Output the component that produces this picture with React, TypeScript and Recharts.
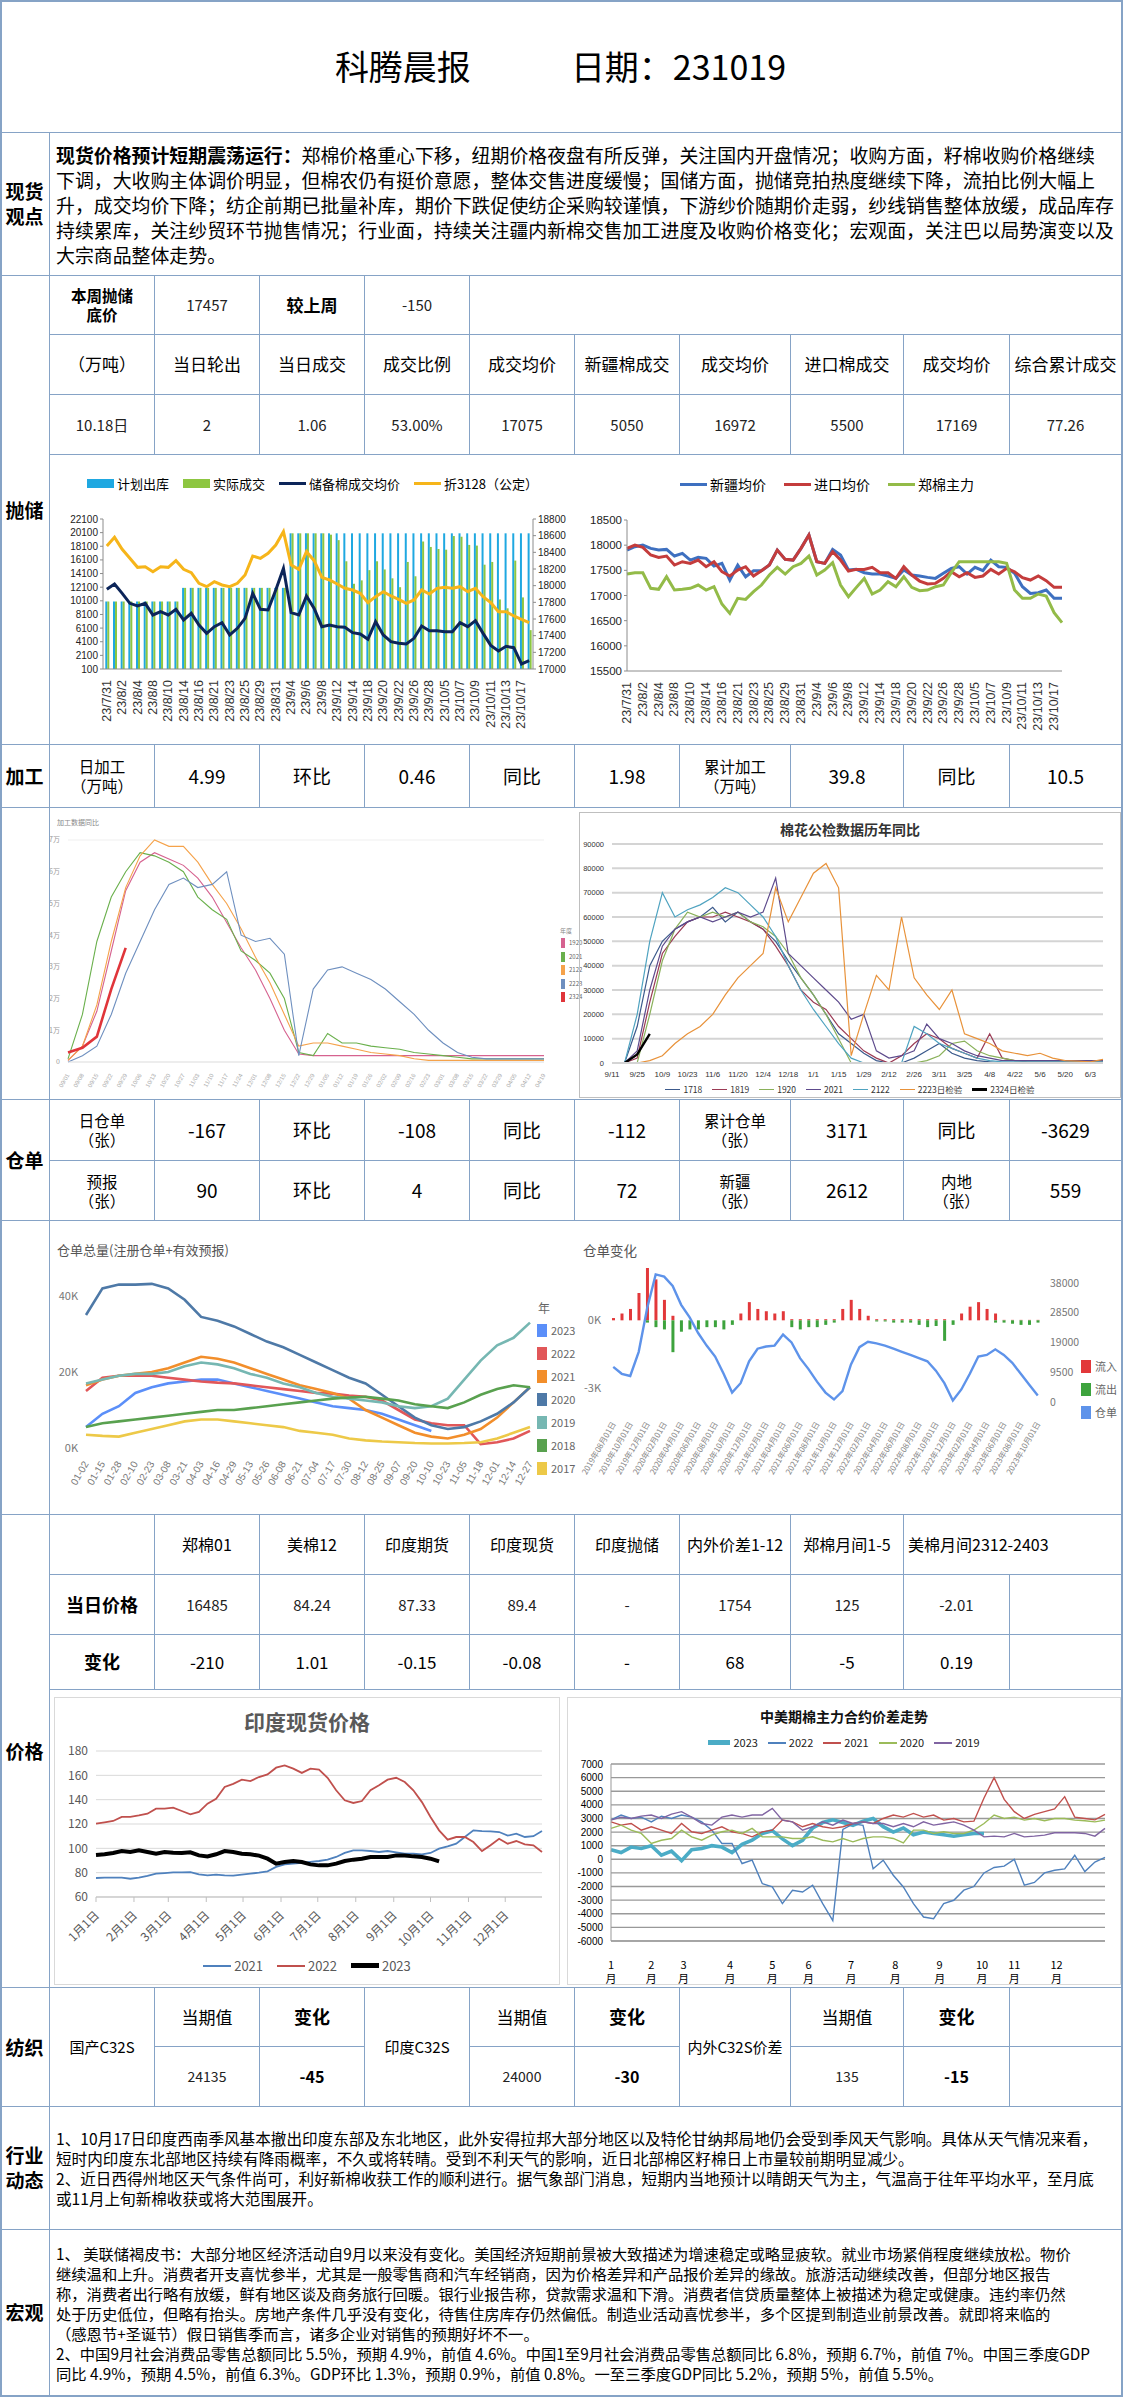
import React from 'react';
import { ComposedChart, LineChart, Line, Bar, XAxis, YAxis, CartesianGrid } from 'recharts';

// ---------- 抛储 ----------
const auctionDates = ['23/7/31','23/8/1','23/8/2','23/8/3','23/8/4','23/8/7','23/8/8','23/8/9','23/8/10','23/8/11','23/8/14','23/8/15','23/8/16','23/8/18','23/8/21','23/8/22','23/8/23','23/8/24','23/8/25','23/8/28','23/8/29','23/8/30','23/8/31','23/9/1','23/9/4','23/9/5','23/9/6','23/9/7','23/9/8','23/9/11','23/9/12','23/9/13','23/9/14','23/9/15','23/9/18','23/9/19','23/9/20','23/9/21','23/9/22','23/9/25','23/9/26','23/9/27','23/9/28','23/10/4','23/10/5','23/10/6','23/10/7','23/10/8','23/10/9','23/10/10','23/10/11','23/10/12','23/10/13','23/10/16','23/10/17','23/10/18'];
const auctionPlan = [10000,10000,10000,10000,10000,10000,10000,10000,10000,10000,12000,12000,12000,12000,12000,12000,12000,12000,12000,12000,12000,12000,12000,12000,20000,20000,20000,20000,20000,20000,20000,20000,20000,20000,20000,20000,20000,20000,20000,20000,20000,20000,20000,20000,20000,20000,20000,20000,20000,20000,20000,20000,20000,20000,20000,20000];
const auctionDeal = [10000,10000,10000,10000,10000,10000,10000,10000,10000,10000,12000,12000,12000,12000,12000,12000,12000,12000,12000,12000,12000,12000,12000,12000,20000,20000,20000,20000,20000,19800,19000,15900,12600,13100,14600,15900,14700,13400,12100,15800,13700,18800,18000,17700,17600,19600,19500,18300,18200,15400,15800,10300,9000,16000,10600,5800];
const auctionAvg = [17956,18020,17908,17788,17756,17788,17648,17688,17648,17716,17588,17668,17528,17428,17508,17556,17408,17488,17608,17908,17716,17708,17948,18208,17676,17648,17876,17728,17508,17528,17508,17500,17436,17420,17356,17568,17408,17328,17308,17300,17368,17516,17460,17460,17448,17448,17556,17508,17580,17428,17284,17216,17272,17256,17060,17100];
const auction3128 = [18476,18580,18436,18328,18220,18228,18168,18228,18220,18300,18196,18156,18028,17988,18048,18008,17988,18028,18128,18356,18328,18388,18488,18648,18248,18196,18408,18300,18100,18068,18020,17968,17948,17908,17796,17868,17928,17876,17836,17788,17828,17948,17900,17968,17980,17968,17988,17928,17968,17868,17796,17688,17688,17636,17596,17556];
const auctionLeftTicks = [100,2100,4100,6100,8100,10100,12100,14100,16100,18100,20100,22100];
const auctionRightTicks = [17000,17200,17400,17600,17800,18000,18200,18400,18600,18800];
const auctionNames = ['计划出库','实际成交','储备棉成交均价','折3128（公定）'];

const xjPrice = [17903,17969,18002,17936,17903,17916,17784,17837,17704,17757,17738,17585,17638,17307,17605,17373,17493,17493,17605,17903,17718,17704,17936,18201,17671,17638,17916,17804,17506,17519,17453,17426,17426,17387,17340,17506,17407,17387,17360,17340,17440,17539,17572,17426,17559,17493,17704,17572,17559,17440,17175,17042,17055,17109,16943,16943];
const importPrice = [17936,18002,17956,17804,17757,17784,17605,17671,17638,17704,17572,17671,17473,17387,17506,17572,17387,17493,17605,17903,17718,17704,17936,18201,17671,17638,17870,17704,17486,17519,17519,17559,17453,17453,17340,17572,17407,17287,17228,17241,17340,17473,17373,17453,17360,17387,17519,17426,17539,17473,17354,17307,17387,17294,17162,17162];
const zzPrice = [17426,17453,17453,17142,17122,17373,17109,17122,17142,17208,17109,17175,16831,16645,16943,16923,17076,17208,17407,17559,17426,17572,17638,17784,17407,17506,17651,17208,16976,17162,17340,17029,17109,17274,17175,17373,17162,17095,17109,17175,17208,17453,17671,17671,17671,17671,17671,17671,17638,17109,16943,16943,17029,16989,16658,16460];
const priceTicks = [15500,16000,16500,17000,17500,18000,18500];
const priceNames = ['新疆均价','进口均价','郑棉主力'];

// ---------- 加工 ----------
const procDates = ['09/01','09/08','09/15','09/22','09/29','10/06','10/13','10/20','10/27','11/03','11/10','11/17','11/24','12/01','12/08','12/15','12/22','12/29','01/05','01/12','01/19','01/26','02/02','02/09','02/16','02/23','03/01','03/08','03/15','03/22','03/29','04/05','04/12','04/19'];
const proc1920 = [0.05,0.5,1.6,3.5,5.4,6.3,6.6,6.4,6.2,5.8,5.2,4.4,3.6,2.9,2.0,1.0,0.25,0.2,0.2,0.2,0.2,0.2,0.2,0.2,0.2,0.2,0.2,0.2,0.2,0.2,0.2,0.2,0.2,0.2];
const proc2021 = [0.1,1.5,3.8,5.2,6.0,6.6,6.5,6.3,6.0,5.2,4.8,4.5,3.5,3.2,2.8,2.0,0.3,0.2,0.9,0.6,0.6,0.5,0.45,0.4,0.3,0.25,0.2,0.15,0.1,0.1,0.1,0.1,0.1,0.1];
const proc2122 = [0.05,0.5,1.8,3.8,5.5,6.5,7.0,6.8,6.8,6.3,5.6,5.0,4.2,3.3,2.5,1.5,0.5,0.6,0.6,0.5,0.4,0.3,0.25,0.2,0.1,0.05,0.05,0.05,0.05,0.05,0.05,0.05,0.05,0.05];
const proc2223 = [0,0.2,0.5,1.5,2.8,3.8,4.8,5.6,5.8,5.5,5.6,6.0,4.0,3.8,3.9,3.4,0.2,2.3,2.9,3.0,2.8,2.6,2.3,1.9,1.5,1.0,0.6,0.3,0.15,0.1,0.1,0.1,0.1,0.1];
const proc2324 = [0.3,0.45,0.8,2.3,3.6,null,null,null,null,null,null,null,null,null,null,null,null,null,null,null,null,null,null,null,null,null,null,null,null,null,null,null,null,null];
const procTicks = [0,1,2,3,4,5,6,7];
const procNames = ['1920','2021','2122','2223','2324'];

const gjWeeks = ['9/11','9/18','9/25','10/2','10/9','10/16','10/23','10/30','11/6','11/13','11/20','11/27','12/4','12/11','12/18','12/25','1/1','1/8','1/15','1/22','1/29','2/5','2/12','2/19','2/26','3/4','3/11','3/18','3/25','4/1','4/8','4/15','4/22','4/29','5/6','5/13','5/20','5/27','6/3','6/10'];
const gj1718 = [0,0,15000,40000,50000,55000,58000,60000,64000,58000,62000,58000,55000,50000,42000,35000,28000,20000,12000,8000,4000,1000,0,0,2000,5000,8000,4000,2000,1000,500,0,0,0,0,0,0,0,0,0];
const gj1819 = [0,0,2000,25000,45000,52000,58000,60000,60000,62000,60000,58000,55000,48000,40000,30000,25000,22000,15000,10000,5000,2000,0,3000,8000,12000,10000,6000,4000,2000,12000,2000,1000,500,500,500,500,500,500,500];
const gj1920 = [0,0,0,20000,42000,55000,62000,60000,62000,60000,62000,58000,56000,52000,45000,35000,28000,20000,10000,0,0,0,0,0,0,1000,3000,8000,9000,5000,3000,2000,1000,1000,1000,1000,1000,1000,1000,1000];
const gj2021 = [0,0,5000,30000,48000,55000,58000,60000,58000,60000,62000,60000,62000,76000,45000,40000,35000,30000,25000,18000,20000,5000,2000,3000,5000,16000,10000,8000,5000,3000,2000,1000,1000,1000,1000,1000,1000,1000,1000,1000];
const gj2122 = [0,0,20000,50000,70000,60000,63000,65000,68000,72000,70000,65000,60000,52000,40000,30000,22000,15000,8000,2000,0,0,0,0,15000,12000,8000,6000,4000,2000,1000,500,500,500,500,500,500,500,500,500];
const gj2223 = [0,0,0,1000,3000,8000,12000,15000,20000,28000,35000,40000,45000,72000,58000,68000,78000,82000,72000,3000,20000,36000,30000,60000,35000,28000,22000,30000,12000,10000,8000,5000,4000,3000,4000,2000,1000,800,500,1500];
const gj2324 = [null,0,3500,12000,null,null,null,null,null,null,null,null,null,null,null,null,null,null,null,null,null,null,null,null,null,null,null,null,null,null,null,null,null,null,null,null,null,null,null,null];
const gjTicks = [0,10000,20000,30000,40000,50000,60000,70000,80000,90000];
const gjNames = ['1718','1819','1920','2021','2122','2223日检验','2324日检验'];

// ---------- 仓单 ----------
const cdDates = ['01-02','01-15','01-28','02-10','02-23','03-08','03-21','04-03','04-16','04-29','05-13','05-26','06-08','06-21','07-04','07-17','07-30','08-12','08-25','09-07','09-20','10-10','10-23','11-05','11-18','12-01','12-14','12-27'];
const cd2023 = [5500,9000,11000,14500,16000,17000,17500,18000,18000,17000,16000,15000,14000,13000,12000,11000,10500,10000,9000,7500,6000,4500,null,null,null,null,null,null];
const cd2022 = [15000,18500,19000,19000,19000,18500,18000,17500,17200,17000,16500,16000,15500,15000,14500,14300,13800,13500,12500,10000,7500,6500,6000,6000,1000,1500,2500,4500];
const cd2021 = [16500,18000,19000,19500,20000,21000,22500,24000,23500,22500,21000,19500,18000,16500,15500,14500,13000,10000,8000,6000,4000,3000,2500,3500,5000,8000,12000,16000];
const cd2020 = [35000,42000,43000,43000,43200,42000,39000,34500,33500,32000,30000,28000,26500,24500,22500,20500,18500,17000,14000,11000,8000,6000,5000,5500,7000,9000,12000,16000];
const cd2019 = [17000,18000,19000,19500,19500,20000,21500,22500,22000,21000,19500,18500,17000,16000,14500,13500,13000,12500,12000,11000,10500,11000,13000,18000,23000,27000,29000,33000];
const cd2018 = [5500,6500,7000,7500,8000,8500,9000,9500,10000,10000,10500,11000,11500,12000,12500,13000,13300,13500,13000,12500,11500,11000,10500,12000,14000,15500,16500,16000];
const cd2017 = [3500,3200,3000,4000,5000,6000,7000,7500,7500,7000,6500,6000,5500,4500,4000,3500,2500,2000,1700,1500,1300,1200,1200,1300,1500,2500,4000,5500];
const cdTicks = [0,20000,40000];
const cdYears = ['2023','2022','2021','2020','2019','2018','2017'];

const chgDates = ['2019年08月01日','2019年09月01日','2019年10月01日','2019年11月01日','2019年12月01日','2020年01月01日','2020年02月01日','2020年03月01日','2020年04月01日','2020年05月01日','2020年06月01日','2020年07月01日','2020年08月01日','2020年09月01日','2020年10月01日','2020年11月01日','2020年12月01日','2021年01月01日','2021年02月01日','2021年03月01日','2021年04月01日','2021年05月01日','2021年06月01日','2021年07月01日','2021年08月01日','2021年09月01日','2021年10月01日','2021年11月01日','2021年12月01日','2022年01月01日','2022年02月01日','2022年03月01日','2022年04月01日','2022年05月01日','2022年06月01日','2022年07月01日','2022年08月01日','2022年09月01日','2022年10月01日','2022年11月01日','2022年12月01日','2023年01月01日','2023年02月01日','2023年03月01日','2023年04月01日','2023年05月01日','2023年06月01日','2023年07月01日','2023年08月01日','2023年09月01日','2023年10月01日'];
const chgStock = [11200,9000,8300,16000,30000,40700,40000,37000,31000,27000,22000,18000,14500,9000,3000,6000,13000,17000,17700,18000,21500,19000,14000,10500,6500,3000,800,3500,12000,17500,19200,18700,18000,17000,16000,15000,14000,13000,10000,6000,500,4000,9000,14500,15000,16800,15000,12500,9000,5500,2100];
const chgIn = [0.1,0.3,0.5,1.2,2.3,1.8,0.9,0.2,0,0,0,0,0,0,0,0.3,0.8,0.5,0.4,0.3,0.4,0.05,0.05,0.05,0.05,0.05,0.05,0.5,0.9,0.5,0.2,0.05,0.05,0.05,0.05,0.05,0.05,0.05,0.05,0.05,0,0.3,0.6,0.8,0.5,0.3,0.02,0.02,0.02,0.02,0.02];
const chgOut = [0,0,0,0,-0.1,-0.3,-0.4,-1.4,-0.5,-0.4,-0.4,-0.3,-0.3,-0.4,-0.2,0,0,0,0,0,0,-0.3,-0.4,-0.3,-0.3,-0.2,-0.1,0,0,0,0,-0.05,-0.05,-0.1,-0.1,-0.1,-0.2,-0.3,-0.25,-0.9,-0.2,0,0,0,0,-0.1,-0.1,-0.15,-0.2,-0.2,-0.1];
const chgLeftTicks = [-3,0];
const chgRightTicks = [0,9500,19000,28500,38000];
const chgNames = ['流入','流出','仓单'];

// ---------- 价格 ----------
const indiaDays = [1,8,15,22,29,36,43,50,57,64,71,78,85,92,99,106,113,120,127,134,141,148,155,162,169,176,183,190,197,204,211,218,225,232,239,246,253,260,267,274,281,288,295,302,309,316,323,330,337,344,351,358,365];
const india2021 = [75.6,75.9,75.9,75.9,75.0,75.9,77.3,79.2,79.7,80.3,80.3,80.5,78.6,77.8,78.4,77.8,77.5,78.4,79.2,80.0,81.1,84.7,86.8,87.4,88.0,88.8,89.6,90.7,92.9,96.2,98.4,98.4,97.8,97.0,97.8,96.7,95.6,95.6,95.1,96.2,99.7,101.6,103.8,109.3,114.8,114.2,114.0,113.4,110.4,112.0,109.3,110.0,114.2];
const india2022 = [120.3,121.4,122.5,125.8,125.8,127.0,128.5,132.6,132.6,133.4,130.7,128.0,130.0,136.7,140.8,150.4,153.0,156.4,155.3,158.6,160.8,166.3,168.2,165.5,162.0,165.5,164.7,158.0,147.7,139.5,137.3,138.9,147.7,151.8,156.4,158.0,154.5,147.7,138.0,125.8,114.8,107.1,109.3,109.3,105.2,97.8,102.5,107.9,103.8,106.0,103.3,102.5,97.0];
const india2023 = [94.5,95.1,96.2,97.8,97.0,98.4,97.0,95.6,97.0,96.4,96.2,96.7,94.2,93.4,95.1,97.8,97.0,95.6,95.1,94.0,91.5,87.4,88.8,89.6,88.8,86.8,86.0,86.0,87.4,89.6,90.7,91.5,92.9,92.9,92.9,94.2,94.2,93.4,92.9,91.5,89.3,null,null,null,null,null,null,null,null,null,null,null,null];
const indiaMonthDays = [1,32,60,91,121,152,182,213,244,274,305,335];
const indiaMonthLabels = ['1月1日','2月1日','3月1日','4月1日','5月1日','6月1日','7月1日','8月1日','9月1日','10月1日','11月1日','12月1日'];
const indiaYTicks = [60,80,100,120,140,160,180];
const indiaNames = ['2021','2022','2023'];

const spreadIdx = [0,5,10,15,20,25,30,35,40,45,50,55,60,65,70,75,80,85,90,95,100,105,110,115,120,125,130,135,140,145,150,155,160,165,170,175,180,185,190,195,200,205,210,215,220,225,230,235,240,245];
const spread2023 = [700,500,900,800,1000,300,600,-100,700,800,1000,900,500,1100,1400,1900,2100,1500,1000,1400,2300,2700,2900,2700,2500,2800,3000,2400,2000,2300,1800,2000,1900,1800,1700,1800,1900,1900,null,null,null,null,null,null,null,null,null,null,null,null];
const spread2022 = [2900,3250,3000,3100,2750,3170,3000,3250,3100,2750,2140,1160,1160,-310,-65,-1780,-2030,-3250,-2270,-2400,-1900,-3250,-4500,2200,2600,2500,-700,-65,-1170,-2030,-3250,-4240,-4360,-3250,-3010,-2270,-2000,-1000,-600,-500,0,-1900,-1700,-1000,-800,-700,300,-900,-200,150];
const spread2021 = [2750,2510,2630,2140,2390,2140,1900,2630,2020,1900,2140,2390,2020,1900,1650,2020,2140,2880,2750,2390,2630,2390,2270,2390,2630,2750,2630,3000,3250,3100,3370,3100,3250,2880,3000,2750,2800,4500,6000,4400,3500,3000,3300,3500,3700,4600,3100,3000,2900,3300];
const spread2020 = [2270,2510,2140,1900,1160,1400,1530,2140,1650,1400,1780,2020,2140,1900,2270,1650,1650,1650,1530,1530,1650,1400,1280,1530,1280,1530,1650,1650,1530,1210,2140,2140,1900,2020,1900,1900,2140,2630,3250,3000,3100,2880,3000,2830,3000,3000,2880,2830,2750,2880];
const spread2019 = [2880,3100,3000,3170,3250,3000,3320,3500,3100,2630,2510,3100,3250,3100,3250,3250,3740,2880,2750,2140,2390,2750,2510,2880,2630,2750,2630,2630,2390,2630,2390,2750,2510,2630,2750,2510,2140,1650,1700,1650,1900,1650,1700,1780,1950,1950,1950,1900,1700,2270];
const spreadMonthIdx = [0,20,36,59,80,98,119,141,163,184,200,221];
const spreadMonthNames = ['1','2','3','4','5','6','7','8','9','10','11','12'];
const spreadYTicks = [-6000,-5000,-4000,-3000,-2000,-1000,0,1000,2000,3000,4000,5000,6000,7000];
const spreadNames = ['2023','2022','2021','2020','2019'];

// ---------- 文字 ----------
const viewLead = '现货价格预计短期震荡运行：';
const viewLines = [
  '郑棉价格重心下移，纽期价格夜盘有所反弹，关注国内开盘情况；收购方面，籽棉收购价格继续',
  '下调，大收购主体调价明显，但棉农仍有挺价意愿，整体交售进度缓慢；国储方面，抛储竞拍热度继续下降，流拍比例大幅上',
  '升，成交均价下降；纺企前期已批量补库，期价下跌促使纺企采购较谨慎，下游纱价随期价走弱，纱线销售整体放缓，成品库存',
  '持续累库，关注纱贸环节抛售情况；行业面，持续关注疆内新棉交售加工进度及收购价格变化；宏观面，关注巴以局势演变以及',
  '大宗商品整体走势。',
];
const industryLines = [
  '1、10月17日印度西南季风基本撤出印度东部及东北地区，此外安得拉邦大部分地区以及特伦甘纳邦局地仍会受到季风天气影响。具体从天气情况来看，',
  '短时内印度东北部地区持续有降雨概率，不久或将转晴。受到不利天气的影响，近日北部棉区籽棉日上市量较前期明显减少。',
  '2、近日西得州地区天气条件尚可，利好新棉收获工作的顺利进行。据气象部门消息，短期内当地预计以晴朗天气为主，气温高于往年平均水平，至月底',
  '或11月上旬新棉收获或将大范围展开。',
];
const macroLines = [
  '1、 美联储褐皮书：大部分地区经济活动自9月以来没有变化。美国经济短期前景被大致描述为增速稳定或略显疲软。就业市场紧俏程度继续放松。物价',
  '继续温和上升。消费者开支喜忧参半，尤其是一般零售商和汽车经销商，因为价格差异和产品报价差异的缘故。旅游活动继续改善，但部分地区报告',
  '称，消费者出行略有放缓，鲜有地区谈及商务旅行回暖。银行业报告称，贷款需求温和下滑。消费者信贷质量整体上被描述为稳定或健康。违约率仍然',
  '处于历史低位，但略有抬头。房地产条件几乎没有变化，待售住房库存仍然偏低。制造业活动喜忧参半，多个区提到制造业前景改善。就即将来临的',
  '（感恩节+圣诞节）假日销售季而言，诸多企业对销售的预期好坏不一。',
  '2、中国9月社会消费品零售总额同比 5.5%，预期 4.9%，前值 4.6%。中国1至9月社会消费品零售总额同比 6.8%，预期 6.7%，前值 7%。中国三季度GDP',
  '同比 4.9%，预期 4.5%，前值 6.3%。GDP环比 1.3%，预期 0.9%，前值 0.8%。一至三季度GDP同比 5.2%，预期 5%，前值 5.5%。',
];

// ---------- 样式 ----------
const BC = '#86A3C6';
const FONT = '"Noto Sans CJK SC", "Noto Sans", sans-serif';
const AXF = '"Liberation Sans Narrow", "Liberation Sans", sans-serif';
const AXW = '"Liberation Sans", Arial, sans-serif';
const COLS = [0, 50, 155, 260, 365, 470, 575, 680, 791, 904, 1010, 1122];

function Box({ x0, x1, y0, y1, children, style }: any) {
  return (
    <div style={{ position: 'absolute', left: x0, top: y0, width: x1 - x0, height: y1 - y0, boxSizing: 'border-box', borderRight: `1px solid ${BC}`, borderBottom: `1px solid ${BC}`, display: 'flex', flexDirection: 'column', alignItems: 'center', justifyContent: 'center', textAlign: 'center', lineHeight: 1.3, ...style }}>
      {children}
    </div>
  );
}
const C = (a: number, b: number, y0: number, y1: number, children?: any, style?: any) => (
  <Box key={`${a}-${b}-${y0}`} x0={COLS[a]} x1={COLS[b]} y0={y0} y1={y1} style={style}>{children}</Box>
);

const LAB = { fontSize: 19, fontWeight: 700 };
const HD = { fontSize: 17 };
const VAL = { fontSize: 15, color: '#222' };
const BIG = { fontSize: 19 };
const SUB = { fontSize: 15.5, lineHeight: 1.2 };

// rotated category label; every visual prop is passed explicitly so Recharts' own tick props don't override it
const VTick = ({ x, y, payload, fs, color, rot, off, family }: any) => (
  <g transform={`translate(${x},${y + off})`}>
    <text transform={`rotate(${rot})`} textAnchor="end" dominantBaseline="central" fontSize={fs} fill={color} fontFamily={family}>{payload.value}</text>
  </g>
);

function LegendRow({ items, fs, style, gap = 16 }: any) {
  return (
    <div style={{ position: 'absolute', display: 'flex', alignItems: 'center', justifyContent: 'center', gap, fontSize: fs, whiteSpace: 'nowrap', lineHeight: 1, ...style }}>
      {items.map((it: any) => (
        <div key={it.label} style={{ display: 'flex', alignItems: 'center', gap: 3 }}>
          <span style={{ display: 'inline-block', width: it.w, height: it.h, background: it.color }} />
          <span>{it.label}</span>
        </div>
      ))}
    </div>
  );
}

function LegendCol({ items, fs, style, sw = 10, sh = 13, step = 23 }: any) {
  return (
    <div style={{ position: 'absolute', fontSize: fs, color: '#666', lineHeight: 1, ...style }}>
      {items.map((it: any, i: number) => (
        <div key={it.label} style={{ position: 'absolute', top: i * step, left: 0, display: 'flex', alignItems: 'center', gap: 4, whiteSpace: 'nowrap' }}>
          <span style={{ display: 'inline-block', width: sw, height: sh, background: it.color }} />
          <span>{it.label}</span>
        </div>
      ))}
    </div>
  );
}

// ---------- 图表 ----------
function AuctionChart() {
  const data = auctionDates.map((d, i) => ({ d, plan: auctionPlan[i], deal: auctionDeal[i], avg: auctionAvg[i], c: auction3128[i] }));
  const cols = ['#1FA8E1', '#8DC641', '#0C2559', '#F6B51A'];
  const yt = { fontSize: 10, fill: '#222', fontFamily: AXF };
  return (
    <div style={{ position: 'absolute', left: 50, top: 455, width: 525, height: 290 }}>
      <LegendRow fs={13} gap={14} style={{ left: 0, width: 525, top: 22 }}
        items={auctionNames.map((n, i) => ({ label: n, color: cols[i], w: 27, h: i < 2 ? 9 : 3 }))} />
      <ComposedChart width={525} height={290} data={data} margin={{ top: 64, right: 0, bottom: 0, left: 0 }} barGap={0} barCategoryGap="30%">
        <XAxis dataKey="d" interval={1} height={76} tickLine={false} axisLine={{ stroke: '#8c8c8c' }}
          tick={(p: any) => <VTick x={p.x} y={p.y} payload={p.payload} fs={12.5} color="#333" rot={-90} off={3} family={AXW} />} />
        <YAxis yAxisId="l" width={53} domain={[100, 22100]} ticks={auctionLeftTicks} interval={0} tick={yt} axisLine={{ stroke: '#8c8c8c' }} tickLine={{ stroke: '#8c8c8c' }} tickSize={3} />
        <YAxis yAxisId="r" orientation="right" width={42} domain={[17000, 18800]} ticks={auctionRightTicks} interval={0} tick={yt} axisLine={{ stroke: '#8c8c8c' }} tickLine={{ stroke: '#8c8c8c' }} tickSize={3} />
        <Bar yAxisId="l" dataKey="plan" fill={cols[0]} isAnimationActive={false} />
        <Bar yAxisId="l" dataKey="deal" fill={cols[1]} isAnimationActive={false} />
        <Line yAxisId="r" dataKey="avg" stroke={cols[2]} strokeWidth={3} dot={false} isAnimationActive={false} />
        <Line yAxisId="r" dataKey="c" stroke={cols[3]} strokeWidth={3} dot={false} isAnimationActive={false} />
      </ComposedChart>
    </div>
  );
}

function PriceChart() {
  const data = auctionDates.map((d, i) => ({ d, xj: xjPrice[i], im: importPrice[i], zz: zzPrice[i] }));
  const cols = ['#3E70C0', '#C43C3C', '#93BB48'];
  return (
    <div style={{ position: 'absolute', left: 575, top: 455, width: 546, height: 290 }}>
      <LegendRow fs={14} gap={18} style={{ left: 0, width: 504, top: 22 }}
        items={priceNames.map((n, i) => ({ label: n, color: cols[i], w: 27, h: 3 }))} />
      <LineChart width={546} height={290} data={data} margin={{ top: 65, right: 59, bottom: 0, left: 0 }}>
        <XAxis dataKey="d" interval={1} height={74} tickLine={false} axisLine={{ stroke: '#8c8c8c' }}
          tick={(p: any) => <VTick x={p.x} y={p.y} payload={p.payload} fs={12.5} color="#333" rot={-90} off={3} family={AXW} />} />
        <YAxis width={52} domain={[15500, 18500]} ticks={priceTicks} interval={0} tick={{ fontSize: 11.5, fill: '#222', fontFamily: AXF }} axisLine={{ stroke: '#8c8c8c' }} tickLine={{ stroke: '#8c8c8c' }} tickSize={3} />
        <Line dataKey="xj" stroke={cols[0]} strokeWidth={3} dot={false} isAnimationActive={false} />
        <Line dataKey="im" stroke={cols[1]} strokeWidth={3} dot={false} isAnimationActive={false} />
        <Line dataKey="zz" stroke={cols[2]} strokeWidth={3} dot={false} isAnimationActive={false} />
      </LineChart>
    </div>
  );
}

function ProcChart() {
  const data = procDates.map((d, i) => ({ d, a: proc1920[i], b: proc2021[i], c: proc2122[i], e: proc2223[i], f: proc2324[i] }));
  const cols = ['#D6628F', '#6AB04C', '#F5A24A', '#6E8FBF', '#E0353A'];
  const fmt = (v: number) => (v === 0 ? '0' : `${v}万`);
  const keys = ['a', 'b', 'c', 'e', 'f'];
  return (
    <div style={{ position: 'absolute', left: 50, top: 808, width: 525, height: 292 }}>
      <div style={{ position: 'absolute', left: 7, top: 9, fontSize: 7, color: '#888' }}>加工数据同比</div>
      <LineChart width={525} height={292} data={data} margin={{ top: 32, right: 11, bottom: 0, left: 0 }}>
        <CartesianGrid vertical={false} stroke="#EFEFEF" />
        <XAxis dataKey="d" interval={0} height={38} tickLine={false} axisLine={{ stroke: '#e3e3e3' }}
          tick={(p: any) => <VTick x={p.x} y={p.y} payload={p.payload} fs={6} color="#aaa" rot={-60} off={4} family={AXW} />} />
        <YAxis yAxisId="l" width={18} domain={[0, 7]} ticks={procTicks} interval={0} tickFormatter={fmt} tick={{ fontSize: 7, fill: '#999' }} axisLine={false} tickLine={false} />
        <YAxis yAxisId="r" orientation="right" width={20} domain={[0, 7]} ticks={procTicks} interval={0} tickFormatter={fmt} tick={{ fontSize: 7, fill: '#999' }} axisLine={false} tickLine={false} />
        {keys.map((k, i) => (
          <Line key={k} yAxisId="l" dataKey={k} stroke={cols[i]} strokeWidth={i === 4 ? 2.6 : 1.1} dot={false} isAnimationActive={false} />
        ))}
      </LineChart>
      <div style={{ position: 'absolute', left: 510, top: 118, fontSize: 6, color: '#888' }}>年度</div>
      <LegendCol fs={6} sw={4} sh={10} step={13.5} style={{ left: 511, top: 130 }} items={procNames.map((n, i) => ({ label: n, color: cols[i] }))} />
    </div>
  );
}

function InspectChart() {
  const series = [gj1718, gj1819, gj1920, gj2021, gj2122, gj2223, gj2324];
  const cols = ['#3C5A8C', '#9B3B55', '#8AB15A', '#5D4A8C', '#4FA3C0', '#E8923A', '#000000'];
  const data = gjWeeks.map((w, i) => {
    const o: any = { w };
    series.forEach((s, j) => { o[`s${j}`] = s[i]; });
    return o;
  });
  return (
    <div style={{ position: 'absolute', left: 579, top: 812, width: 542, height: 286, border: '1px solid #BFBFBF', boxSizing: 'border-box' }}>
      <div style={{ position: 'absolute', left: 0, width: 540, top: 6, textAlign: 'center', fontSize: 14, fontWeight: 700, color: '#333' }}>棉花公检数据历年同比</div>
      <LineChart width={540} height={284} data={data} margin={{ top: 31, right: 17, bottom: 0, left: 0 }}>
        <CartesianGrid vertical={false} stroke="#D4D4D4" strokeWidth={2} />
        <XAxis dataKey="w" interval={1} height={34} tickLine={false} axisLine={{ stroke: '#D4D4D4', strokeWidth: 2 }} tick={{ fontSize: 8, fill: '#333', fontFamily: AXW }} />
        <YAxis width={32} domain={[0, 90000]} ticks={gjTicks} interval={0} tick={{ fontSize: 7.5, fill: '#333', fontFamily: AXW }} axisLine={false} tickLine={false} />
        {series.map((_, j) => (
          <Line key={j} dataKey={`s${j}`} stroke={cols[j]} strokeWidth={j === 6 ? 2.4 : 1.2} dot={false} isAnimationActive={false} />
        ))}
      </LineChart>
      <LegendRow fs={8.5} gap={10} style={{ left: 0, width: 540, top: 272, color: '#333' }}
        items={gjNames.map((n, i) => ({ label: n, color: cols[i], w: 15, h: i === 6 ? 3 : 1.5 }))} />
    </div>
  );
}

function StockChart() {
  const series = [cd2023, cd2022, cd2021, cd2020, cd2019, cd2018, cd2017];
  const cols = ['#5B8FF9', '#E15759', '#F28E2B', '#4E79A7', '#76B7B2', '#59A14F', '#EDC948'];
  const data = cdDates.map((d, i) => {
    const o: any = { d };
    series.forEach((s, j) => { o[`s${j}`] = s[i]; });
    return o;
  });
  return (
    <div style={{ position: 'absolute', left: 50, top: 1221, width: 525, height: 294 }}>
      <div style={{ position: 'absolute', left: 7, top: 19, fontSize: 13, color: '#555' }}>仓单总量(注册仓单+有效预报)</div>
      <LineChart width={525} height={294} data={data} margin={{ top: 56, right: 45, bottom: 0, left: 0 }}>
        <XAxis dataKey="d" interval={0} height={67} tickLine={false} axisLine={false}
          tick={(p: any) => <VTick x={p.x} y={p.y} payload={p.payload} fs={10} color="#777" rot={-60} off={6} family={AXW} />} />
        <YAxis width={36} domain={[0, 45000]} ticks={cdTicks} interval={0} tickFormatter={(v: number) => `${v / 1000}K`} tick={{ fontSize: 11, fill: '#777' }} axisLine={false} tickLine={false} />
        {series.map((_, j) => (
          <Line key={j} dataKey={`s${j}`} stroke={cols[j]} strokeWidth={2.6} dot={false} isAnimationActive={false} />
        ))}
      </LineChart>
      <div style={{ position: 'absolute', left: 488, top: 78, fontSize: 12, color: '#666' }}>年</div>
      <LegendCol fs={11} style={{ left: 487, top: 103 }} items={cdYears.map((n, i) => ({ label: n, color: cols[i] }))} />
    </div>
  );
}

function ChangeChart() {
  const data = chgDates.map((d, i) => ({ d, inflow: chgIn[i], outflow: chgOut[i], stock: chgStock[i] }));
  const cols = ['#E2383A', '#3DA33D', '#5E93EA'];
  return (
    <div style={{ position: 'absolute', left: 575, top: 1221, width: 546, height: 294 }}>
      <div style={{ position: 'absolute', left: 8, top: 19, fontSize: 13.5, color: '#555' }}>仓单变化</div>
      <ComposedChart width={546} height={294} data={data} margin={{ top: 47, right: 39, bottom: 0, left: 0 }} stackOffset="sign" barSize={3}>
        <XAxis dataKey="d" interval={1} height={113} tickLine={false} axisLine={false}
          tick={(p: any) => <VTick x={p.x} y={p.y} payload={p.payload} fs={8} color="#888" rot={-60} off={12} family={FONT} />} />
        <YAxis yAxisId="l" width={34} domain={[-3.59, 2.27]} ticks={chgLeftTicks} interval={0} tickFormatter={(v: number) => `${v}K`} tick={{ fontSize: 11, fill: '#777' }} axisLine={false} tickLine={false} />
        <YAxis yAxisId="r" orientation="right" width={40} domain={[0, 42750]} ticks={chgRightTicks} interval={0} tick={{ fontSize: 10.5, fill: '#777' }} axisLine={false} tickLine={false} />
        <Bar yAxisId="l" dataKey="inflow" stackId="a" fill={cols[0]} isAnimationActive={false} />
        <Bar yAxisId="l" dataKey="outflow" stackId="a" fill={cols[1]} isAnimationActive={false} />
        <Line yAxisId="r" dataKey="stock" stroke={cols[2]} strokeWidth={2.4} dot={false} isAnimationActive={false} />
      </ComposedChart>
      <LegendCol fs={11} style={{ left: 506, top: 139 }} items={chgNames.map((n, i) => ({ label: n, color: cols[i] }))} />
    </div>
  );
}

const IndiaTick = ({ x, y, payload }: any) => (
  <g transform={`translate(${x},${y + 8})`}>
    <text transform="rotate(-45)" textAnchor="end" dominantBaseline="central" fontSize={12} fill="#595959">
      {indiaMonthLabels[indiaMonthDays.indexOf(payload.value)]}
    </text>
  </g>
);

function IndiaChart() {
  const data = indiaDays.map((day, i) => ({ day, a: india2021[i], b: india2022[i], c: india2023[i] }));
  const cols = ['#4F81BD', '#C0504D', '#000000'];
  return (
    <div style={{ position: 'absolute', left: 54, top: 1697, width: 506, height: 288, border: '1px solid #D9D9D9', boxSizing: 'border-box' }}>
      <div style={{ position: 'absolute', left: 0, width: 504, top: 8, textAlign: 'center', fontSize: 21, fontWeight: 700, color: '#595959' }}>印度现货价格</div>
      <LineChart width={504} height={286} data={data} margin={{ top: 53, right: 17, bottom: 39, left: 0 }}>
        <CartesianGrid vertical={false} stroke="#D9D9D9" />
        <XAxis type="number" dataKey="day" domain={[1, 365]} ticks={indiaMonthDays} interval={0} height={48} tick={IndiaTick} tickLine={{ stroke: '#BFBFBF' }} tickSize={5} axisLine={{ stroke: '#BFBFBF' }} />
        <YAxis width={41} domain={[60, 180]} ticks={indiaYTicks} interval={0} tick={{ fontSize: 12, fill: '#595959' }} axisLine={false} tickLine={false} />
        <Line dataKey="a" stroke={cols[0]} strokeWidth={1.8} dot={false} isAnimationActive={false} />
        <Line dataKey="b" stroke={cols[1]} strokeWidth={1.8} dot={false} isAnimationActive={false} />
        <Line dataKey="c" stroke={cols[2]} strokeWidth={4} dot={false} isAnimationActive={false} />
      </LineChart>
      <LegendRow fs={13} gap={14} style={{ left: 0, width: 504, top: 261, color: '#595959' }}
        items={indiaNames.map((n, i) => ({ label: n, color: cols[i], w: 28, h: i === 2 ? 5 : 2 }))} />
    </div>
  );
}

const MonthTick = ({ x, y, payload }: any) => (
  <g transform={`translate(${x},${y})`}>
    <text textAnchor="middle" fontSize={11} fill="#000" y={20}>{spreadMonthNames[spreadMonthIdx.indexOf(payload.value)]}</text>
    <text textAnchor="middle" fontSize={11} fill="#000" y={34}>月</text>
  </g>
);

function SpreadChart() {
  const series = [spread2023, spread2022, spread2021, spread2020, spread2019];
  const cols = ['#4BACC6', '#4F81BD', '#C0504D', '#9BBB59', '#8064A2'];
  const data = spreadIdx.map((i, k) => {
    const o: any = { i };
    series.forEach((s, j) => { o[`s${j}`] = s[k]; });
    return o;
  });
  return (
    <div style={{ position: 'absolute', left: 567, top: 1697, width: 554, height: 288, border: '1px solid #D9D9D9', boxSizing: 'border-box' }}>
      <div style={{ position: 'absolute', left: 0, width: 552, top: 8, textAlign: 'center', fontSize: 14, fontWeight: 700, color: '#111' }}>中美期棉主力合约价差走势</div>
      <LineChart width={552} height={286} data={data} margin={{ top: 66, right: 15, bottom: 0, left: 0 }}>
        <CartesianGrid vertical={false} stroke="#999999" strokeWidth={1.4} />
        <XAxis type="number" dataKey="i" domain={[0, 245]} ticks={spreadMonthIdx} interval={0} height={43} tick={MonthTick} tickLine={false} axisLine={{ stroke: '#999' }} />
        <YAxis width={43} domain={[-6000, 7000]} ticks={spreadYTicks} interval={0} tick={{ fontSize: 10, fill: '#000', fontFamily: AXF }} axisLine={{ stroke: '#999' }} tickLine={false} />
        {series.map((_, j) => (
          <Line key={j} dataKey={`s${j}`} stroke={cols[j]} strokeWidth={j === 0 ? 3.6 : 1.4} dot={false} isAnimationActive={false} />
        ))}
      </LineChart>
      <LegendRow fs={11} gap={10} style={{ left: 0, width: 552, top: 39, color: '#222' }}
        items={spreadNames.map((n, i) => ({ label: n, color: cols[i], w: i === 0 ? 22 : 18, h: i === 0 ? 5 : 2 }))} />
    </div>
  );
}

function TextBlock({ lines, fs, lh, lead }: any) {
  return (
    <div style={{ textAlign: 'left', width: '100%', paddingLeft: 6, boxSizing: 'border-box' }}>
      {lines.map((l: string, i: number) => (
        <div key={i} style={{ whiteSpace: 'nowrap', fontSize: fs, lineHeight: `${lh}px` }}>
          {i === 0 && lead ? <b>{lead}</b> : null}{l}
        </div>
      ))}
    </div>
  );
}

export default function App() {
  const two = (a: string, b: string) => (<><div>{a}</div><div>{b}</div></>);
  return (
    <div style={{ position: 'absolute', left: 0, top: 0, width: 1123, height: 2399, background: '#fff', fontFamily: FONT, color: '#000', overflow: 'hidden' }}>
      <Box x0={0} x1={1122} y0={0} y1={133} style={{ flexDirection: 'row', fontSize: 34 }}>
        <span>科腾晨报</span><span style={{ marginLeft: 100 }}>日期：231019</span>
      </Box>

      {C(0, 1, 133, 276, two('现货', '观点'), LAB)}
      {C(1, 11, 133, 276, <TextBlock lines={viewLines} fs={18.9} lh={25} lead={viewLead} />)}

      {C(0, 1, 276, 745, '抛储', LAB)}
      {C(1, 2, 276, 335, two('本周抛储', '底价'), { fontSize: 15.5, fontWeight: 700, lineHeight: 1.2 })}
      {C(2, 3, 276, 335, '17457', VAL)}
      {C(3, 4, 276, 335, '较上周', { fontSize: 17, fontWeight: 700 })}
      {C(4, 5, 276, 335, '-150', VAL)}
      {C(5, 11, 276, 335, '')}
      {['（万吨）', '当日轮出', '当日成交', '成交比例', '成交均价', '新疆棉成交', '成交均价', '进口棉成交', '成交均价', '综合累计成交'].map((t, i) => C(i + 1, i + 2, 335, 395, t, HD))}
      {['10.18日', '2', '1.06', '53.00%', '17075', '5050', '16972', '5500', '17169', '77.26'].map((t, i) => C(i + 1, i + 2, 395, 455, t, VAL))}
      {C(1, 11, 455, 745, '')}

      {C(0, 1, 745, 808, '加工', LAB)}
      {C(1, 2, 745, 808, two('日加工', '（万吨）'), SUB)}
      {C(2, 3, 745, 808, '4.99', BIG)}
      {C(3, 4, 745, 808, '环比', BIG)}
      {C(4, 5, 745, 808, '0.46', BIG)}
      {C(5, 6, 745, 808, '同比', BIG)}
      {C(6, 7, 745, 808, '1.98', BIG)}
      {C(7, 8, 745, 808, two('累计加工', '（万吨）'), SUB)}
      {C(8, 9, 745, 808, '39.8', BIG)}
      {C(9, 10, 745, 808, '同比', BIG)}
      {C(10, 11, 745, 808, '10.5', BIG)}
      {C(0, 1, 808, 1100, '')}
      {C(1, 11, 808, 1100, '')}

      {C(0, 1, 1100, 1221, '仓单', LAB)}
      {C(1, 2, 1100, 1161, two('日仓单', '（张）'), SUB)}
      {C(2, 3, 1100, 1161, '-167', BIG)}
      {C(3, 4, 1100, 1161, '环比', BIG)}
      {C(4, 5, 1100, 1161, '-108', BIG)}
      {C(5, 6, 1100, 1161, '同比', BIG)}
      {C(6, 7, 1100, 1161, '-112', BIG)}
      {C(7, 8, 1100, 1161, two('累计仓单', '（张）'), SUB)}
      {C(8, 9, 1100, 1161, '3171', BIG)}
      {C(9, 10, 1100, 1161, '同比', BIG)}
      {C(10, 11, 1100, 1161, '-3629', BIG)}
      {C(1, 2, 1161, 1221, two('预报', '（张）'), SUB)}
      {C(2, 3, 1161, 1221, '90', BIG)}
      {C(3, 4, 1161, 1221, '环比', BIG)}
      {C(4, 5, 1161, 1221, '4', BIG)}
      {C(5, 6, 1161, 1221, '同比', BIG)}
      {C(6, 7, 1161, 1221, '72', BIG)}
      {C(7, 8, 1161, 1221, two('新疆', '（张）'), SUB)}
      {C(8, 9, 1161, 1221, '2612', BIG)}
      {C(9, 10, 1161, 1221, two('内地', '（张）'), SUB)}
      {C(10, 11, 1161, 1221, '559', BIG)}
      {C(0, 1, 1221, 1515, '')}
      {C(1, 11, 1221, 1515, '')}

      {C(0, 1, 1515, 1988, '价格', LAB)}
      {C(1, 2, 1515, 1575, '')}
      {['郑棉01', '美棉12', '印度期货', '印度现货', '印度抛储', '内外价差1-12', '郑棉月间1-5'].map((t, i) => C(i + 2, i + 3, 1515, 1575, t, { fontSize: 16 }))}
      {C(9, 11, 1515, 1575, '美棉月间2312-2403', { fontSize: 16, alignItems: 'flex-start', paddingLeft: 4 })}
      {C(1, 2, 1575, 1635, '当日价格', { fontSize: 18, fontWeight: 700 })}
      {['16485', '84.24', '87.33', '89.4', '-', '1754', '125', '-2.01', ''].map((t, i) => C(i + 2, i + 3, 1575, 1635, t, VAL))}
      {C(1, 2, 1635, 1690, '变化', { fontSize: 18, fontWeight: 700 })}
      {['-210', '1.01', '-0.15', '-0.08', '-', '68', '-5', '0.19', ''].map((t, i) => C(i + 2, i + 3, 1635, 1690, t, { fontSize: 17 }))}
      {C(1, 11, 1690, 1988, '')}

      {C(0, 1, 1988, 2107, '纺织', LAB)}
      {C(1, 2, 1988, 2107, '国产C32S', { fontSize: 15 })}
      {C(2, 3, 1988, 2047, '当期值', HD)}
      {C(3, 4, 1988, 2047, '变化', { fontSize: 18, fontWeight: 700 })}
      {C(4, 5, 1988, 2107, '印度C32S', { fontSize: 15 })}
      {C(5, 6, 1988, 2047, '当期值', HD)}
      {C(6, 7, 1988, 2047, '变化', { fontSize: 18, fontWeight: 700 })}
      {C(7, 8, 1988, 2107, '内外C32S价差', { fontSize: 15 })}
      {C(8, 9, 1988, 2047, '当期值', HD)}
      {C(9, 10, 1988, 2047, '变化', { fontSize: 18, fontWeight: 700 })}
      {C(10, 11, 1988, 2047, '')}
      {C(2, 3, 2047, 2107, '24135', { fontSize: 14, color: '#222' })}
      {C(3, 4, 2047, 2107, '-45', { fontSize: 16, fontWeight: 700 })}
      {C(5, 6, 2047, 2107, '24000', { fontSize: 14, color: '#222' })}
      {C(6, 7, 2047, 2107, '-30', { fontSize: 16, fontWeight: 700 })}
      {C(8, 9, 2047, 2107, '135', { fontSize: 14, color: '#222' })}
      {C(9, 10, 2047, 2107, '-15', { fontSize: 16, fontWeight: 700 })}
      {C(10, 11, 2047, 2107, '')}

      {C(0, 1, 2107, 2230, two('行业', '动态'), LAB)}
      {C(1, 11, 2107, 2230, <TextBlock lines={industryLines} fs={15.6} lh={20} />)}
      {C(0, 1, 2230, 2396, '宏观', LAB)}
      {C(1, 11, 2230, 2396, <TextBlock lines={macroLines} fs={15.3} lh={20} />)}

      <AuctionChart />
      <PriceChart />
      <ProcChart />
      <InspectChart />
      <StockChart />
      <ChangeChart />
      <IndiaChart />
      <SpreadChart />

      <div style={{ position: 'absolute', left: 0, top: 0, width: 1123, height: 2397, border: `2px solid ${BC}`, boxSizing: 'border-box', pointerEvents: 'none' }} />
    </div>
  );
}
